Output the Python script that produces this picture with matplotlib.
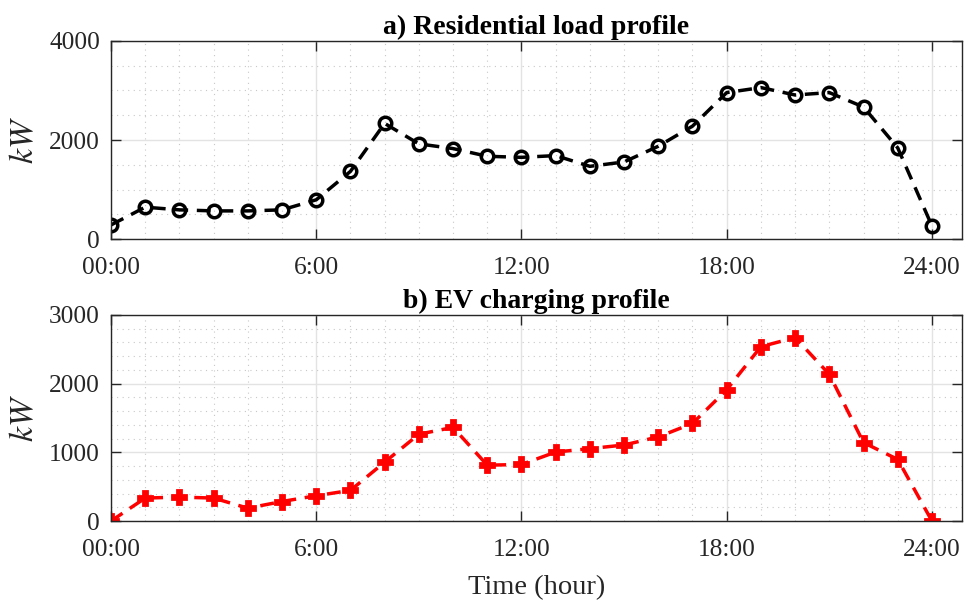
import matplotlib
matplotlib.use("Agg")
import matplotlib.pyplot as plt
from matplotlib.ticker import MultipleLocator

plt.rcParams["font.family"] = ["Liberation Serif", "DejaVu Serif"]
plt.rcParams["mathtext.fontset"] = "stix"
plt.rcParams["font.size"] = 18

hours = list(range(25))
xtick_pos = [0, 6, 12, 18, 24]
xtick_labels = ["00:00", "6:00", "12:00", "18:00", "24:00"]

residential = [284, 643, 589, 568, 568, 589, 792, 1366, 2335, 1922, 1827,
               1671, 1650, 1685, 1468, 1557, 1874, 2280, 2958, 3059, 2909,
               2958, 2666, 1841, 264]
ev = [0, 334, 348, 334, 187, 284, 368, 446, 857, 1264, 1363, 813, 823,
      1004, 1054, 1107, 1225, 1421, 1911, 2539, 2671, 2136, 1142, 897, 0]

fig = plt.figure(figsize=(9.66, 6.01), dpi=100)
ax1 = fig.add_axes([0.1149, 0.6023, 0.8810, 0.3295])
ax2 = fig.add_axes([0.1149, 0.1331, 0.8810, 0.3428])


def style(ax, ymax, ymajor, yminor):
    ax.set_xlim(0, 24.88)
    ax.set_ylim(0, ymax)
    ax.set_xticks(xtick_pos)
    ax.set_xticklabels(xtick_labels)
    ax.yaxis.set_major_locator(MultipleLocator(ymajor))
    ax.xaxis.set_minor_locator(MultipleLocator(1))
    ax.yaxis.set_minor_locator(MultipleLocator(yminor))
    ax.grid(which="major", color="#e3e3e3", linewidth=1.0, linestyle="-")
    ax.grid(which="minor", color="#c8c8c8", linewidth=0.8, linestyle=(0, (1, 4)))
    ax.set_axisbelow(True)
    ax.tick_params(which="major", direction="in", length=7, width=1.0,
                   top=True, right=True, colors="#262626", labelcolor="#262626",
                   labelsize=18.3)
    ax.tick_params(axis="x", which="major", pad=13)
    ax.tick_params(axis="y", which="major", pad=8)
    ax.tick_params(which="minor", length=0)
    for sp in ax.spines.values():
        sp.set_color("#262626")
        sp.set_linewidth(1.0)
    ax.set_ylabel("$kW$", fontsize=24.5, color="#262626", labelpad=6)


ax1.plot(hours, residential, color="black", linestyle=(0, (4, 2.5)),
         linewidth=2.5, marker="o", markersize=9, markerfacecolor="none",
         markeredgewidth=2.5, markeredgecolor="black")
style(ax1, 4000, 2000, 500)
ax1.set_title("a) Residential load profile", fontweight="bold", fontsize=20,
              pad=5)

ax2.plot(hours, ev, color="red", linestyle=(0, (4, 2.5)), linewidth=2.5,
         marker="P", markersize=10, markerfacecolor="red",
         markeredgecolor="red", markeredgewidth=2)
style(ax2, 3000, 1000, 200)
ax2.set_title("b) EV charging profile", fontweight="bold", fontsize=20, pad=5)
ax2.set_xlabel("Time (hour)", fontsize=20.5, color="#262626", labelpad=10)

fig.savefig("out.png", dpi=100)
